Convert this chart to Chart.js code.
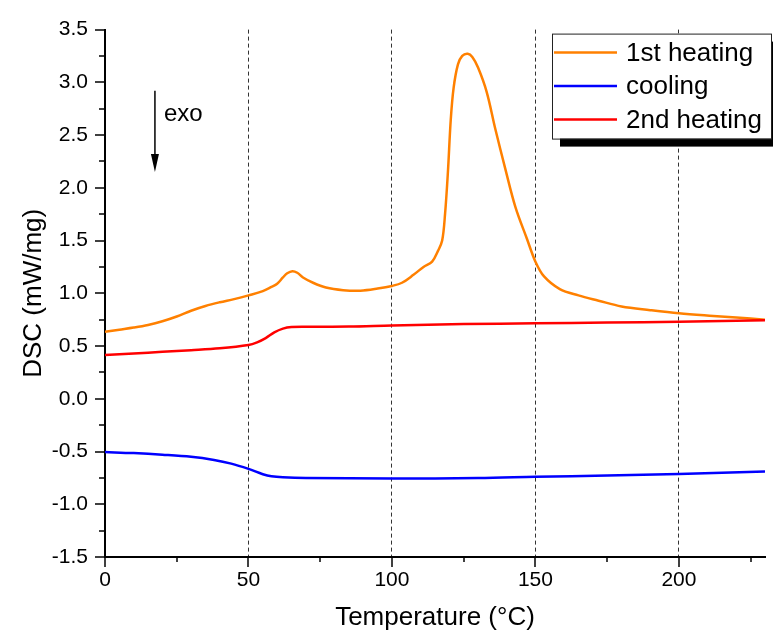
<!DOCTYPE html>
<html>
<head>
<meta charset="utf-8">
<script src="https://cdn.jsdelivr.net/npm/chart.js@4.4.1/dist/chart.umd.min.js"></script>
<style>
  html, body { margin: 0; padding: 0; background: #fff; }
  #wrap { width: 773px; height: 633px; }
</style>
</head>
<body>
<div id="wrap"><canvas id="dsc" width="773" height="633"></canvas></div>
<script>
// ==============================
// DATA
// ==============================
const seriesLabels = ['1st heating', 'cooling', '2nd heating'];
const seriesColors = ['#ff8000', '#0000ff', '#ff0000'];

const heat1T = [0, 5, 10, 15, 20, 25, 30, 35, 40, 45, 50, 55, 58, 60, 62, 63.5, 65.3, 67, 69, 72.5, 77, 83, 89, 95, 100, 103.5, 107.5, 111, 114, 116, 117.5, 118.5, 119.5, 120.5, 121.5, 123, 124.5, 126.4, 128, 130, 133, 136, 139.5, 143, 147, 150, 153, 158.5, 165, 172, 180, 190, 200, 212, 220, 230];
const heat1Y = [0.635, 0.655, 0.675, 0.70, 0.735, 0.78, 0.835, 0.88, 0.915, 0.945, 0.98, 1.02, 1.06, 1.09, 1.15, 1.19, 1.21, 1.195, 1.15, 1.10, 1.055, 1.03, 1.025, 1.045, 1.07, 1.10, 1.175, 1.25, 1.30, 1.40, 1.50, 1.75, 2.15, 2.65, 2.95, 3.17, 3.25, 3.27, 3.24, 3.14, 2.91, 2.56, 2.18, 1.82, 1.52, 1.30, 1.16, 1.04, 0.98, 0.93, 0.875, 0.84, 0.81, 0.785, 0.77, 0.75];

const coolT = [0, 10, 20, 30, 38, 44, 50, 55, 58, 62, 70, 100, 130, 150, 175, 200, 230];
const coolY = [-0.505, -0.515, -0.53, -0.55, -0.58, -0.615, -0.665, -0.715, -0.735, -0.745, -0.752, -0.755, -0.752, -0.74, -0.727, -0.712, -0.69];

const heat2T = [0, 10, 20, 30, 40, 50, 53, 56, 59, 62, 65, 70, 85, 100, 125, 150, 175, 200, 230];
const heat2Y = [0.415, 0.43, 0.445, 0.46, 0.478, 0.51, 0.535, 0.575, 0.63, 0.665, 0.68, 0.683, 0.685, 0.695, 0.708, 0.715, 0.722, 0.73, 0.745];

const X_MIN = 0, X_MAX = 230, X_STEP = 50;
const Y_MIN = -1.5, Y_MAX = 3.5, Y_STEP = 0.5;
const xTitle = 'Temperature (°C)';
const yTitle = 'DSC (mW/mg)';

const FONT = "Arial, 'Liberation Sans', sans-serif";
const pairs = (xs, ys) => xs.map((x, i) => ({ x: x, y: ys[i] }));

// ==============================
// EXTRA DRAWING: minor ticks, legend box, exo arrow
// ==============================
const decorations = {
  id: 'decorations',
  afterDraw(chart) {
    const { ctx, chartArea: a, scales: { x, y } } = chart;
    ctx.save();
    ctx.strokeStyle = '#000';
    ctx.lineWidth = 1.5;

    // outward tick marks, major + minor
    for (let v = X_MIN; v <= X_MAX; v += X_STEP / 2) {
      const px = Math.round(x.getPixelForValue(v));
      const len = v % X_STEP === 0 ? 10 : 5;
      ctx.beginPath(); ctx.moveTo(px, a.bottom); ctx.lineTo(px, a.bottom + len); ctx.stroke();
    }
    for (let v = Y_MIN; v <= Y_MAX + 1e-9; v += Y_STEP / 2) {
      const py = Math.round(y.getPixelForValue(v));
      const major = Math.abs(v / Y_STEP - Math.round(v / Y_STEP)) < 1e-9;
      ctx.beginPath(); ctx.moveTo(a.left, py); ctx.lineTo(a.left - (major ? 10 : 6), py); ctx.stroke();
    }

    // exo arrow
    const ax = x.getPixelForValue(17.4);
    const ay0 = y.getPixelForValue(2.92), ay1 = y.getPixelForValue(2.15);
    ctx.lineWidth = 1.5;
    ctx.beginPath(); ctx.moveTo(ax, ay0); ctx.lineTo(ax, ay1 - 14); ctx.stroke();
    ctx.fillStyle = '#000';
    ctx.beginPath(); ctx.moveTo(ax - 4, ay1 - 18); ctx.lineTo(ax + 4, ay1 - 18); ctx.lineTo(ax, ay1); ctx.closePath(); ctx.fill();
    ctx.font = '24px ' + FONT;
    ctx.textAlign = 'left';
    ctx.textBaseline = 'alphabetic';
    ctx.fillText('exo', ax + 9, ay0 + 30);

    // legend with drop shadow
    const w = 219, h = 105;
    const lx = a.right - 213, ly = a.top + 4;
    ctx.fillStyle = '#000';
    ctx.fillRect(lx + 8, ly + 8, w, h);
    ctx.fillStyle = '#fff';
    ctx.fillRect(lx, ly, w, h);
    ctx.lineWidth = 1;
    ctx.strokeStyle = '#222';
    ctx.strokeRect(lx + 0.5, ly + 0.5, w, h);
    ctx.font = '26px ' + FONT;
    ctx.textBaseline = 'middle';
    chart.data.datasets.forEach((ds, i) => {
      const ry = ly + 19 + i * 33.5;
      ctx.strokeStyle = ds.borderColor;
      ctx.lineWidth = 2.5;
      ctx.beginPath(); ctx.moveTo(lx + 2, ry); ctx.lineTo(lx + 65, ry); ctx.stroke();
      ctx.fillStyle = '#000';
      ctx.fillText(ds.label, lx + 74, ry + 1);
    });
    ctx.restore();
  }
};

// ==============================
// CHART
// ==============================
const datasets = [
  { label: seriesLabels[0], data: pairs(heat1T, heat1Y), borderColor: seriesColors[0], order: 2 },
  { label: seriesLabels[1], data: pairs(coolT, coolY), borderColor: seriesColors[1], order: 1 },
  { label: seriesLabels[2], data: pairs(heat2T, heat2Y), borderColor: seriesColors[2], order: 0 }
].map(d => Object.assign(d, {
  borderWidth: 2.5,
  pointRadius: 0,
  fill: false,
  tension: 0.35
}));

new Chart(document.getElementById('dsc'), {
  type: 'line',
  data: { datasets: datasets },
  plugins: [decorations],
  options: {
    responsive: false,
    animation: false,
    layout: { padding: { top: 27, right: 8, left: 0, bottom: 0 } },
    plugins: { legend: { display: false }, tooltip: { enabled: false } },
    scales: {
      x: {
        type: 'linear',
        min: X_MIN,
        max: X_MAX,
        afterFit: s => { s.height = 76; },
        ticks: {
          stepSize: X_STEP,
          includeBounds: false,
          padding: 11,
          color: '#000',
          font: { family: FONT, size: 21 },
          maxRotation: 0
        },
        grid: {
          drawTicks: false,
          lineWidth: 1,
          color: c => (c.tick && c.tick.value > X_MIN && c.tick.value < X_MAX) ? '#333' : 'rgba(0,0,0,0)'
        },
        border: { display: true, color: '#000', width: 2, dash: [4, 3] },
        title: {
          display: true,
          text: xTitle,
          color: '#000',
          font: { family: FONT, size: 26 },
          padding: { top: 0, bottom: 0 }
        }
      },
      y: {
        min: Y_MIN,
        max: Y_MAX,
        afterFit: s => { s.width = 105; },
        ticks: {
          stepSize: Y_STEP,
          padding: 17,
          color: '#000',
          font: { family: FONT, size: 21 },
          callback: v => Number(v).toFixed(1)
        },
        grid: { drawOnChartArea: false, drawTicks: false },
        border: { display: true, color: '#000', width: 2 },
        title: {
          display: true,
          text: yTitle,
          color: '#000',
          font: { family: FONT, size: 26 },
          padding: { top: 18, bottom: 0 }
        }
      }
    }
  }
});
</script>
</body>
</html>
